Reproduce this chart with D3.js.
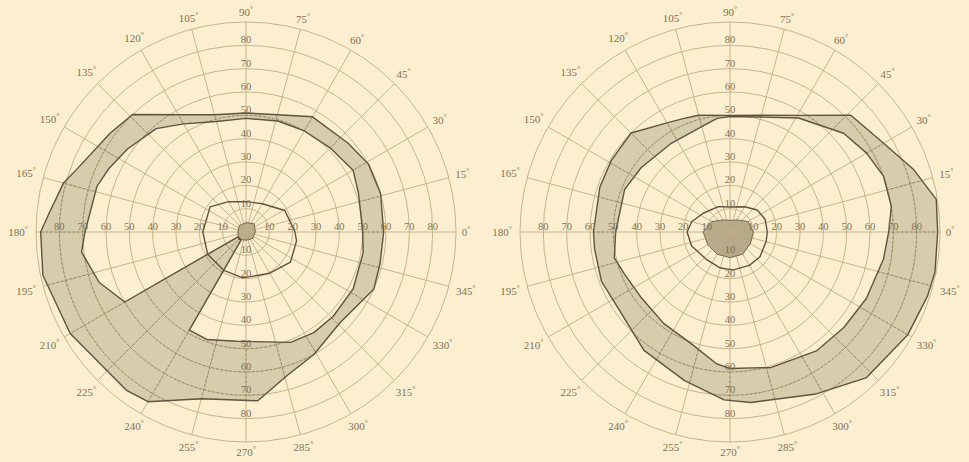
<!DOCTYPE html>
<html>
<head>
<meta charset="utf-8">
<script src="https://cdn.jsdelivr.net/npm/d3@7"></script>
<style>
  html, body { margin: 0; padding: 0; background: #fcefcf; }
  svg { display: block; }
</style>
</head>
<body>
<svg id="chart" width="969" height="462"></svg>
<script>
// Two perimetry charts. Angles are meridians in degrees (0 = right, counter-clockwise),
// radii are eccentricities in degrees of visual field.
const meridians = d3.range(0, 360, 15);
const rings = [10, 20, 30, 40, 50, 60, 70, 80, 90];
const ringLabels = [10, 20, 30, 40, 50, 60, 70, 80];

// Left chart: outer field limit and inner edge of the ring defect (with the sector towards fixation)
const leftOuter = [[0,59],[16,60],[29,60],[41,58],[60,57],[75,52],[90,51],[105,52],[120,58],[134,70],[144,72],[159,77],[165,81],[175,85],[180,88],[192,89],[210,87],[233,85],[240,84],[255,74],[274,72.5],[286,64],[299,60],[316,56],[336,60],[347,59]];
const leftInner = [[0,50],[19,51],[30,53],[45,51],[60,50],[74,49.5],[90,48.7],[105,49],[120,53.5],[131,58.7],[145,62],[155,64.7],[163,66.8],[180,69],[187,71],[199,66.5],[210,60],[211,4],[238,4],[240,48.6],[250,49],[265,47],[292,51],[304,52],[316,52],[332,52],[350,51]];
const leftCentral = [[0,21],[29,19],[60,14],[90,13],[120,15],[145,18.8],[180,18.5],[210,19],[240,19],[266,19.7],[300,20.4],[326,23],[350,22]];
const leftCore = [[0,4],[45,5],[90,4],[135,4],[180,3.5],[225,4.5],[270,3.5],[315,4]];

// Right chart
const rightOuter = [[0,89],[9,89.5],[19,83],[30,76],[44,72],[60,57.7],[75,51.8],[90,50],[105,51.8],[112,52.5],[120,54],[135,60],[149,59.4],[161,59],[180,58.5],[187,58.5],[201,59],[214,58],[234,62.7],[253,66.6],[268,72],[277,73.6],[298,78.6],[313,85.5],[330,88],[342,89],[349,89.5]];
const rightInner = [[0,68],[9,70],[20,70],[30,67.6],[41,64.5],[59,57],[75,51],[90,49.5],[96.5,49],[105,46.8],[123.5,45.6],[144,47],[158,48.7],[180,49],[192.6,50.8],[201.6,48.7],[216.6,47.3],[234,48.4],[251,50.7],[264,56.7],[270,58.5],[287,60.7],[306,63],[320,63.7],[334,65],[350,66.8]];
const rightCentral = [[0,16],[20,16],[39,15],[60,12.5],[90,10.7],[115,12],[145,14],[165,17],[180,18.4],[200,17.5],[230,15.5],[255,16],[275,16.3],[300,16.5],[320,16.7],[345,16]];
const rightCore = [[0,10],[30,9],[60,6],[90,5],[120,6],[150,9],[180,11.5],[210,11],[240,11],[270,11],[300,11],[330,10]];

const charts = [
  { id: 'l', cx: 246, cy: 232, outer: leftOuter, inner: leftInner, central: leftCentral, core: leftCore },
  { id: 'r', cx: 730, cy: 232, outer: rightOuter, inner: rightInner, central: rightCentral, core: rightCore }
];

const R = 210;
const r = d3.scaleLinear().domain([0, 90]).range([0, R]);
const toRad = a => a * Math.PI / 180;
const radial = d3.lineRadial()
  .angle(d => toRad(90 - d[0]))
  .radius(d => r(d[1]))
  .curve(d3.curveLinearClosed);

const paper = '#fcefcf';
const gridColor = '#bfae86';
const bandFill = '#d6cdac';
const coreFill = '#9c9172';
const inkColor = '#5e5440';
const textColor = '#7d7157';
const font = '"Liberation Serif", "DejaVu Serif", serif';

const svg = d3.select('#chart');
svg.append('rect').attr('width', 969).attr('height', 462).attr('fill', paper);
const defs = svg.append('defs');

function drawGrid(sel, color, width, dash) {
  sel.selectAll('circle').data(rings).join('circle')
    .attr('r', d => r(d))
    .attr('fill', 'none')
    .attr('stroke', color)
    .attr('stroke-width', width)
    .attr('stroke-dasharray', dash);
  sel.selectAll('line').data(meridians).join('line')
    .attr('x1', 0).attr('y1', 0)
    .attr('x2', d => r(90) * Math.cos(toRad(d)))
    .attr('y2', d => -r(90) * Math.sin(toRad(d)))
    .attr('stroke', color)
    .attr('stroke-width', width)
    .attr('stroke-dasharray', dash);
}

charts.forEach(c => {
  const g = svg.append('g').attr('transform', `translate(${c.cx},${c.cy})`);
  const bandPath = radial(c.outer) + radial(c.inner);

  defs.append('clipPath').attr('id', 'band-' + c.id)
    .append('path').attr('d', bandPath).attr('clip-rule', 'evenodd');

  // shaded ring defect
  g.append('path')
    .attr('d', bandPath)
    .attr('fill', bandFill)
    .attr('fill-rule', 'evenodd');

  // dense centre
  g.append('path')
    .attr('d', radial(c.core))
    .attr('fill', coreFill)
    .attr('opacity', 0.75);

  // grid: circles every 10 degrees, meridians every 15 degrees
  drawGrid(g.append('g'), gridColor, 0.9, null);
  // grid seen through the stippled band
  drawGrid(g.append('g').attr('clip-path', `url(#band-${c.id})`), '#8f8466', 0.9, '2.5,2');

  // outlines of the isopters
  [c.outer, c.inner, c.central].forEach(iso => {
    g.append('path')
      .attr('d', radial(iso))
      .attr('fill', 'none')
      .attr('stroke', inkColor)
      .attr('stroke-width', 1.4)
      .attr('stroke-linejoin', 'round');
  });
  g.append('path')
    .attr('d', radial(c.core))
    .attr('fill', 'none')
    .attr('stroke', inkColor)
    .attr('stroke-width', 0.8);

  // eccentricity labels along the horizontal and vertical meridians
  const lab = g.append('g')
    .attr('font-family', font)
    .attr('font-size', 10.5)
    .attr('fill', textColor)
    .attr('text-anchor', 'middle');
  ringLabels.forEach(v => {
    lab.append('text').attr('x', -r(v)).attr('y', -2).text(v);
    lab.append('text').attr('x', r(v)).attr('y', -2).text(v);
    lab.append('text').attr('x', 0).attr('y', -r(v) - 2).text(v);
    lab.append('text').attr('x', 0).attr('y', r(v) - 2).text(v);
  });

  // meridian labels around the rim
  const rim = g.append('g')
    .attr('font-family', font)
    .attr('font-size', 11)
    .attr('fill', textColor)
    .attr('text-anchor', 'middle');
  meridians.forEach(a => {
    const digits = String(a).length;
    const off = R + 10 + Math.abs(Math.cos(toRad(a))) * (digits - 1) * 4;
    const t = rim.append('text')
      .attr('x', off * Math.cos(toRad(a)))
      .attr('y', -off * Math.sin(toRad(a)) + 4);
    t.append('tspan').text(a);
    t.append('tspan').attr('font-size', 8).attr('dy', -4).text('°');
  });
});
</script>
</body>
</html>
